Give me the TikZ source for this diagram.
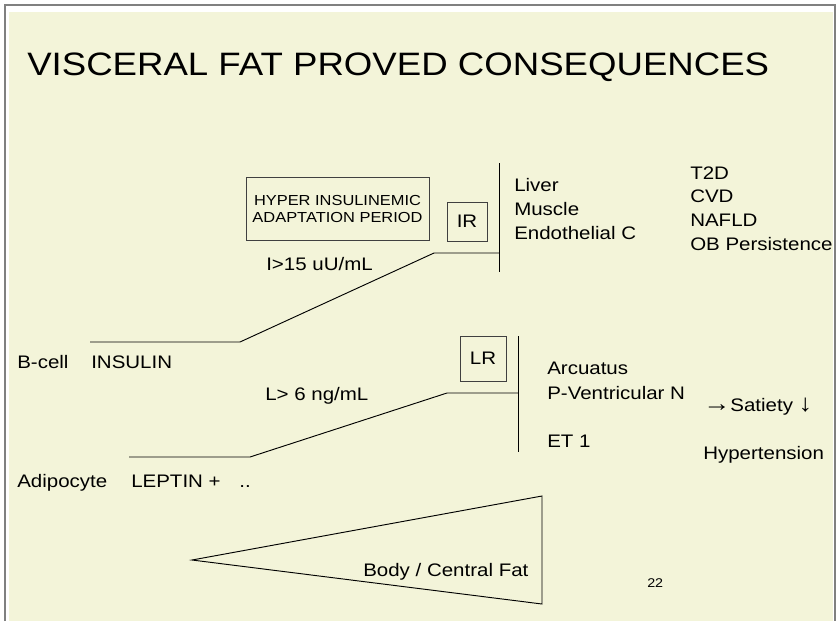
\documentclass[tikz,border=0pt]{standalone}
\usepackage{fontspec}
\setmainfont{Liberation Sans}[FakeStretch=1.13]
\usepackage{xcolor}
\usepackage{tikz}
\usetikzlibrary{positioning}
\definecolor{slidebg}{RGB}{243,244,217}
\definecolor{framegray}{RGB}{128,128,128}
\definecolor{boxgray}{RGB}{64,64,64}
\newcommand{\bigarr}[1]{{\fontsize{18}{16}\selectfont #1}}

\begin{document}
\begin{tikzpicture}[x=0.75pt, y=-0.75pt,
  title/.style={anchor=base west, inner sep=0pt, font=\fontsize{24.3}{29}\selectfont},
  txt/.style={anchor=base west, inner sep=0pt, font=\fontsize{13.6}{16}\selectfont},
  boxed/.style={rectangle, draw=boxgray, line width=0.75pt, inner sep=0pt,
                align=center, font=\fontsize{13.6}{16}\selectfont},
  smallbox/.style={boxed, font=\fontsize{10.9}{12.75}\selectfont},
  wire/.style={draw=black, line width=0.7pt},
  pagenum/.style={anchor=base west, inner sep=0pt, font=\fontsize{9.5}{11}\selectfont}
]
\useasboundingbox (0,0) rectangle (837,621);

% === Slide background ========================================================
\fill[white] (0,0) rectangle (837,621);
\fill[slidebg] (9,12) rectangle (833,621);
\draw[framegray, line width=1.2pt] (5,621) -- (5,5) -- (835,5) -- (835,621);

% === Title ===================================================================
\node[title] (T) at (27,75) {VISCERAL FAT PROVED CONSEQUENCES};

% === Insulin branch (top) ====================================================
\node[smallbox, minimum width=137.25pt, minimum height=47.25pt]
      (HYP) at (337.5,208.5) {HYPER INSULINEMIC\\ADAPTATION PERIOD};
\node[boxed, minimum width=30pt, minimum height=29.25pt] (IR) at (467,221.5) {IR};
\node[txt] (ITH) at (266,270) {I>15 uU/mL};
\node[txt] (BC)  at (17,368)  {B-cell};
\node[txt] (INS) at (91,368)  {INSULIN};

\coordinate (i0) at (90,342);
\coordinate (i1) at (240,342);
\coordinate (i2) at (434,253);
\coordinate (i3) at (499,253);
\coordinate (itop) at (499,163);
\coordinate (ibot) at (499,272);
\draw[wire] (i0) -- (i1) -- (i2) -- (i3);
\draw[wire] (itop) -- (ibot);

\node[txt] (LIV) at (514,191)   {Liver};
\node[txt] (MUS) at (514,215)   {Muscle};
\node[txt] (END) at (514,239)   {Endothelial C};
\node[txt] (T2D) at (690,179)   {T2D};
\node[txt] (CVD) at (690,202.5) {CVD};
\node[txt] (NAF) at (690,226)   {NAFLD};
\node[txt] (OBP) at (690,250)   {OB Persistence};

% === Leptin branch (bottom) ==================================================
\node[boxed, minimum width=34.5pt, minimum height=33.75pt] (LR) at (483,358.5) {LR};
\node[txt] (LTH) at (265,400) {L> 6 ng/mL};
\node[txt] (ADI) at (17,487)  {Adipocyte};
\node[txt] (LEP) at (131,487) {LEPTIN +\hspace{14pt}..};

\coordinate (l0) at (129,457);
\coordinate (l1) at (250,457);
\coordinate (l2) at (447,393);
\coordinate (l3) at (518,393);
\coordinate (ltop) at (518,336);
\coordinate (lbot) at (518,452);
\draw[wire] (l0) -- (l1) -- (l2) -- (l3);
\draw[wire] (ltop) -- (lbot);

\node[txt] (ARC) at (547,374) {Arcuatus};
\node[txt] (PVN) at (547,399) {P-Ventricular N};
\node[txt] (ET)  at (547,447) {ET 1};
\node[txt] (SAT) at (703,411) {\bigarr{→}Satiety \bigarr{↓}};
\node[txt] (HYT) at (703,459) {Hypertension};

% === Body / central fat wedge ================================================
\coordinate (w0) at (192,560);
\coordinate (w1) at (542,496);
\coordinate (w2) at (542,604);
\draw[wire] (w0) -- (w1) -- (w2) -- cycle;
\node[txt] (BCF) at (363,576) {Body / Central Fat};

\node[pagenum] (PG) at (647,587) {22};

\end{tikzpicture}
\end{document}
